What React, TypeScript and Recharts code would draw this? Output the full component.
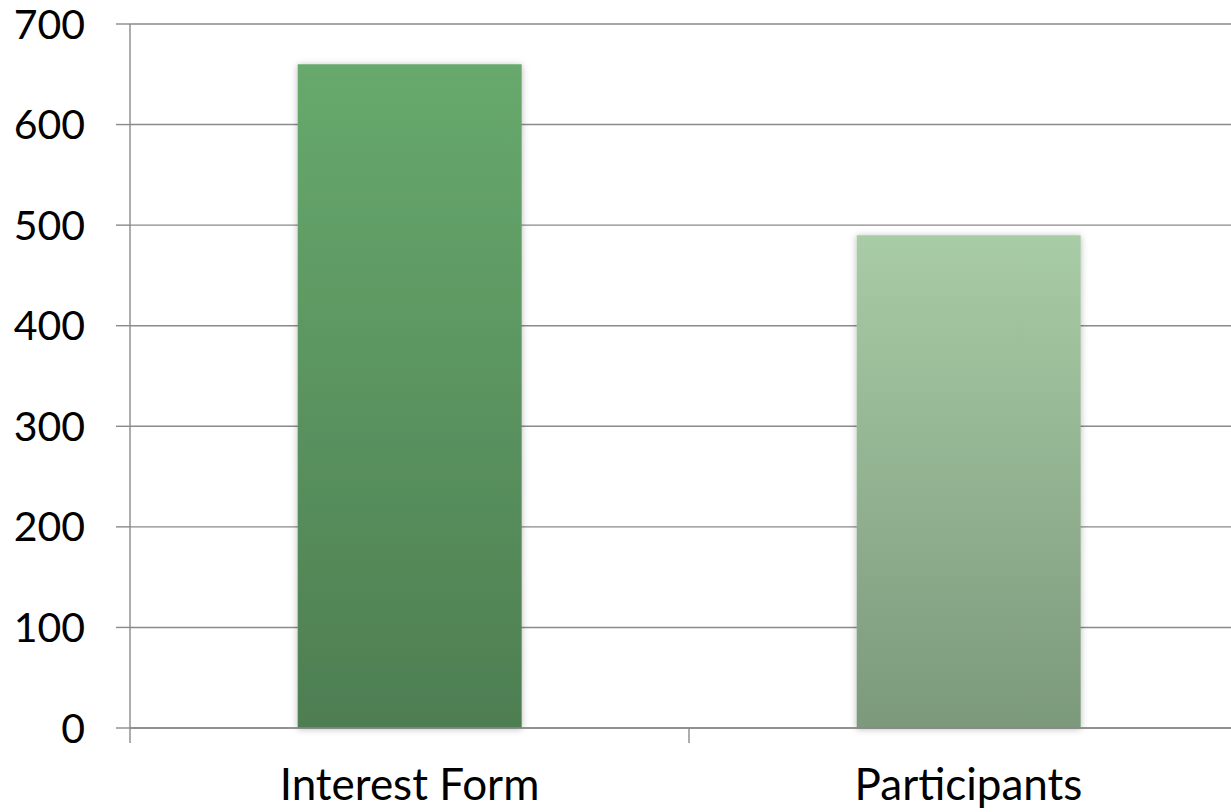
import React from "react";
import { BarChart, Bar, XAxis, YAxis, CartesianGrid, Cell } from "recharts";

const categories = ["Interest Form", "Participants"];
const values = [660, 490];
const yTicks = [0, 100, 200, 300, 400, 500, 600, 700];

const data = categories.map((name, i) => ({ name, value: values[i] }));

const gradients = [
  { id: "gInterest", top: "#67A96D", bottom: "#4E7E52" },
  { id: "gPart", top: "#A8CCA5", bottom: "#7C997C" },
];

const GRID = "#8a8a8a";
const FONT = "Lato, 'Open Sans', sans-serif";
const TICK_LEN = 15;
const LABEL_GAP = 41;

function CategoryTick(props: any) {
  const { x, y, payload } = props;
  const off = payload && typeof payload.offset === "number" ? payload.offset : 0;
  return (
    <g>
      {off ? (
        <line x1={x - off} x2={x - off} y1={y} y2={y + TICK_LEN} stroke={GRID} strokeWidth={1.4} />
      ) : null}
      <text
        x={x}
        y={y + LABEL_GAP}
        dy="0.71em"
        textAnchor="middle"
        fill="#000"
        fontSize={44}
        fontFamily={FONT}
      >
        {payload.value}
      </text>
    </g>
  );
}

export default function App() {
  return (
    <div
      style={{
        position: "fixed",
        left: 0,
        top: 0,
        width: 1231,
        height: 812,
        overflow: "hidden",
        background: "#fff",
      }}
    >
      <BarChart
        width={1253}
        height={812}
        data={data}
        margin={{ top: 24, right: 5, left: 0, bottom: 83 }}
        barCategoryGap="30%"
      >
        <defs>
          {gradients.map((g) => (
            <linearGradient key={g.id} id={g.id} x1="0" y1="0" x2="0" y2="1">
              <stop offset="0%" stopColor={g.top} />
              <stop offset="100%" stopColor={g.bottom} />
            </linearGradient>
          ))}
          <filter id="barShadow" x="-10%" y="-10%" width="120%" height="120%">
            <feDropShadow dx="0" dy="1" stdDeviation="3.5" floodColor="#000" floodOpacity="0.28" />
          </filter>
        </defs>
        <CartesianGrid horizontal vertical={false} stroke={GRID} strokeWidth={1.4} />
        <XAxis
          dataKey="name"
          height={1}
          axisLine={{ stroke: GRID, strokeWidth: 1.4 }}
          tickLine={false}
          tickSize={0}
          tickMargin={0}
          interval={0}
          tick={<CategoryTick />}
        />
        <YAxis
          width={130}
          domain={[0, 700]}
          ticks={yTicks}
          interval={0}
          axisLine={{ stroke: GRID, strokeWidth: 1.4 }}
          tickLine={{ stroke: GRID, strokeWidth: 1.4 }}
          tickSize={14}
          tickMargin={31}
          tick={{ fill: "#000", fontSize: 41, fontFamily: FONT }}
        />
        <Bar dataKey="value" isAnimationActive={false} filter="url(#barShadow)">
          {data.map((d, i) => (
            <Cell key={d.name} fill={`url(#${gradients[i].id})`} />
          ))}
        </Bar>
      </BarChart>
    </div>
  );
}
